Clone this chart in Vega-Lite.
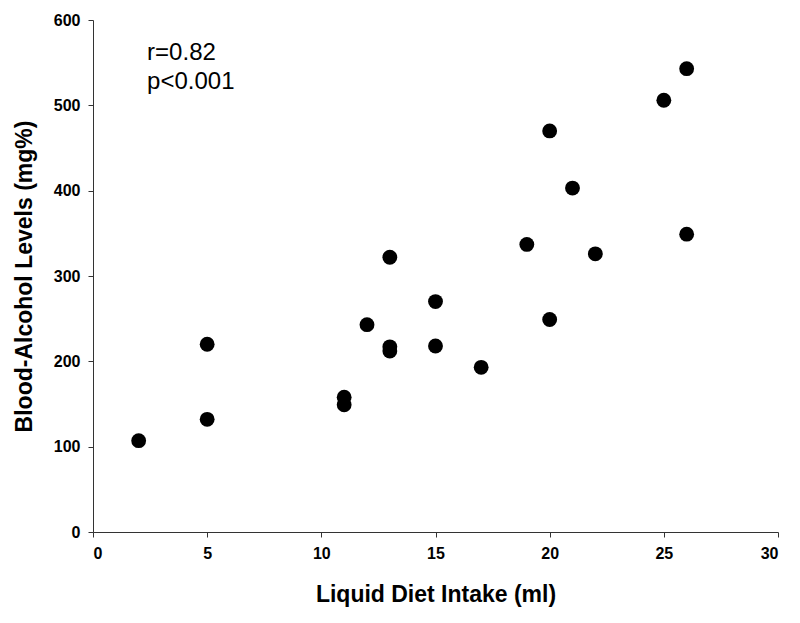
{
  "$schema": "https://vega.github.io/schema/vega-lite/v6.json",
  "width": 685,
  "height": 512,
  "autosize": {"type": "none"},
  "padding": {"left": 93, "top": 20, "right": 22, "bottom": 91},
  "background": "white",
  "config": {
    "view": {"stroke": null},
    "font": "Liberation Sans"
  },
  "datasets": {
    "points": [
      {"intake": 2, "bac": 107},
      {"intake": 5, "bac": 132},
      {"intake": 5, "bac": 220},
      {"intake": 11, "bac": 158},
      {"intake": 11, "bac": 149},
      {"intake": 12, "bac": 243},
      {"intake": 13, "bac": 322},
      {"intake": 13, "bac": 217},
      {"intake": 13, "bac": 212},
      {"intake": 15, "bac": 270},
      {"intake": 15, "bac": 218},
      {"intake": 17, "bac": 193},
      {"intake": 19, "bac": 337},
      {"intake": 20, "bac": 470},
      {"intake": 20, "bac": 249},
      {"intake": 21, "bac": 403},
      {"intake": 22, "bac": 326},
      {"intake": 25, "bac": 506},
      {"intake": 26, "bac": 543},
      {"intake": 26, "bac": 349}
    ],
    "notes": [
      {"intake": 2.37, "bac": 553, "label": "r=0.82"},
      {"intake": 2.37, "bac": 519, "label": "p<0.001"}
    ]
  },
  "layer": [
    {
      "data": {"name": "points"},
      "mark": {"type": "point", "shape": "circle", "filled": true, "color": "black", "opacity": 1, "size": 220},
      "encoding": {
        "x": {
          "field": "intake", "type": "quantitative",
          "scale": {"domain": [0, 30], "nice": false, "zero": true},
          "axis": {
            "title": "Liquid Diet Intake (ml)",
            "values": [0, 5, 10, 15, 20, 25, 30],
            "grid": false,
            "domainColor": "#333333",
            "tickColor": "#333333",
            "tickSize": 5,
            "labelFont": "Liberation Sans",
            "labelFontWeight": "bold",
            "labelFontSize": 16,
            "labelColor": "black",
            "labelPadding": 8,
            "titleFont": "Liberation Sans",
            "titleFontWeight": "bold",
            "titleFontSize": 23,
            "titleColor": "black",
            "titlePadding": 22
          }
        },
        "y": {
          "field": "bac", "type": "quantitative",
          "scale": {"domain": [0, 600], "nice": false},
          "axis": {
            "title": "Blood-Alcohol Levels (mg%)",
            "values": [0, 100, 200, 300, 400, 500, 600],
            "grid": false,
            "domainColor": "#333333",
            "tickColor": "#333333",
            "tickSize": 5,
            "labelFont": "Liberation Sans",
            "labelFontWeight": "bold",
            "labelFontSize": 16,
            "labelColor": "black",
            "labelPadding": 8,
            "titleFont": "Liberation Sans",
            "titleFontWeight": "bold",
            "titleFontSize": 23,
            "titleColor": "black",
            "titlePadding": 17
          }
        }
      }
    },
    {
      "data": {"name": "notes"},
      "mark": {"type": "text", "align": "left", "baseline": "alphabetic", "font": "Liberation Sans", "fontSize": 24, "color": "black"},
      "encoding": {
        "x": {"field": "intake", "type": "quantitative"},
        "y": {"field": "bac", "type": "quantitative"},
        "text": {"field": "label"}
      }
    }
  ]
}
